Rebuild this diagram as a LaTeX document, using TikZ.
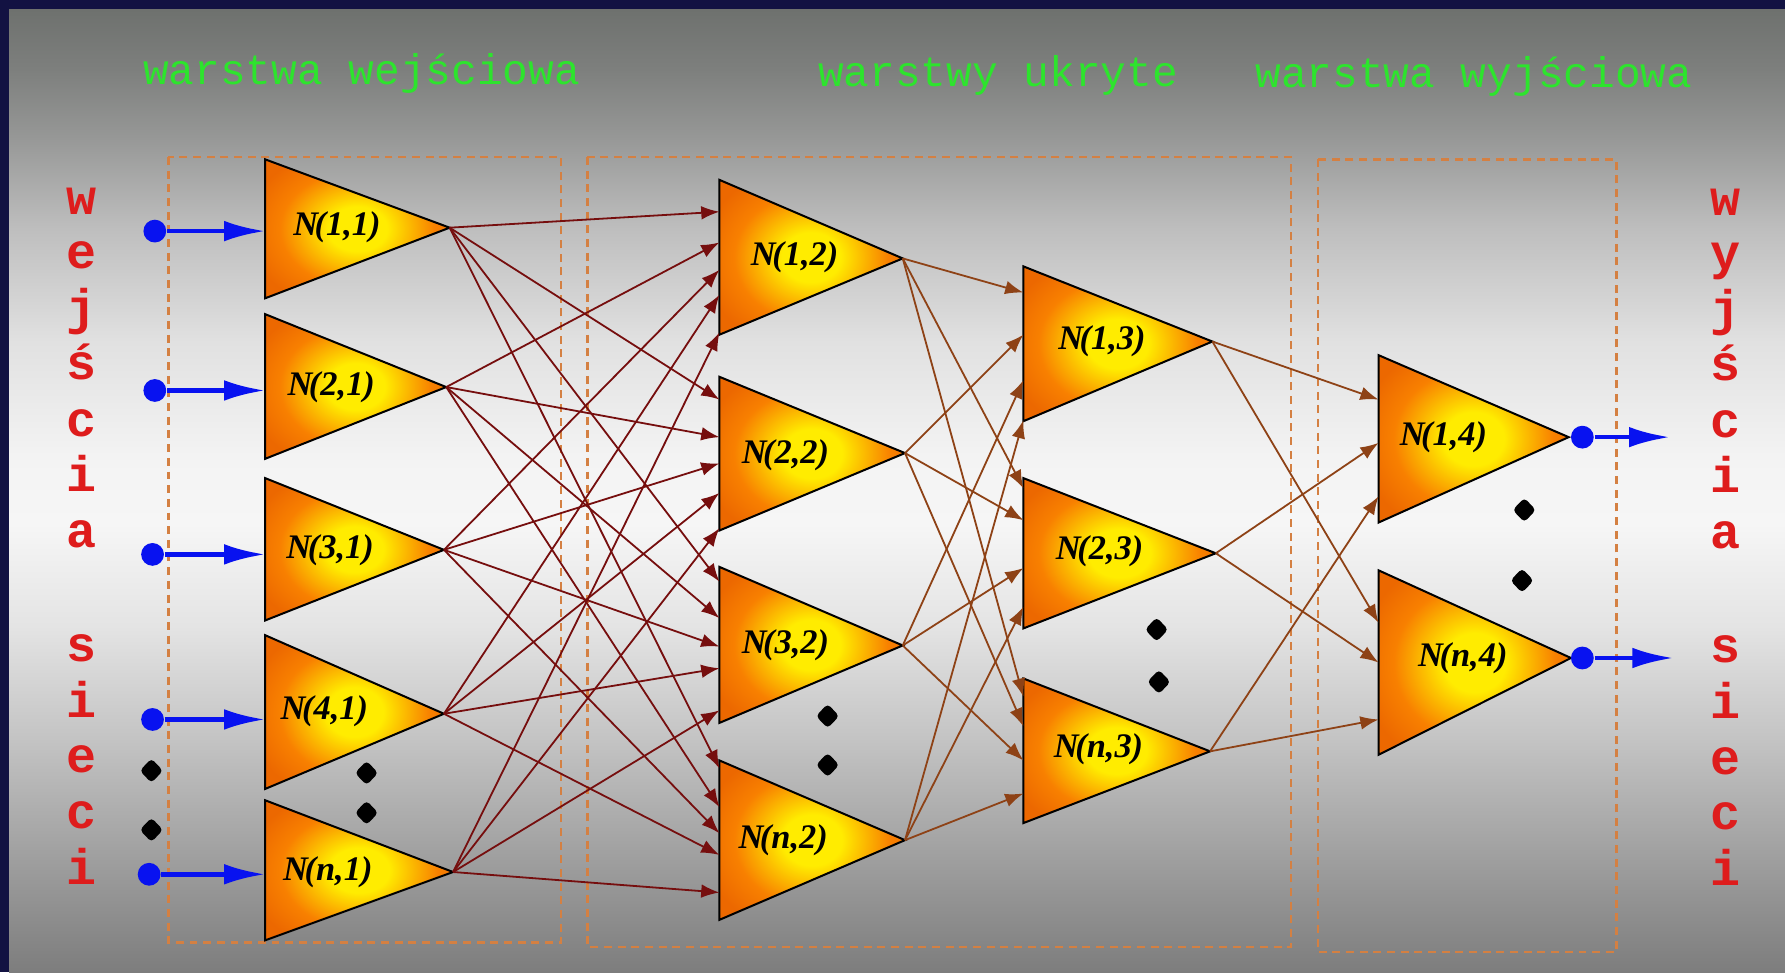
\documentclass[tikz,border=0pt]{standalone}
\usepackage{fontspec}
\setmainfont{Liberation Serif}
\newfontfamily\monof{Liberation Mono}
\newfontfamily\labfam{Liberation Serif}
\usetikzlibrary{arrows.meta,shapes.geometric}

\definecolor{navyb}{RGB}{18,18,66}
\definecolor{ttl}{RGB}{45,228,45}
\definecolor{sred}{RGB}{222,28,28}
\definecolor{boxc}{RGB}{212,128,66}
\definecolor{cA}{RGB}{118,14,14}
\definecolor{cB}{RGB}{142,66,22}
\definecolor{nY}{RGB}{255,236,0}
\definecolor{nO}{RGB}{248,128,0}
\definecolor{nOd}{RGB}{236,104,0}
\definecolor{inblue}{RGB}{8,18,240}
\definecolor{bgA}{RGB}{110,113,110}
\definecolor{bgB}{RGB}{125,127,125}
\definecolor{bgC}{RGB}{150,151,150}
\definecolor{bgD}{RGB}{190,190,190}
\definecolor{bgE}{RGB}{225,225,225}
\definecolor{bgF}{RGB}{243,243,243}
\definecolor{bgG}{RGB}{246,246,246}
\definecolor{bgH}{RGB}{228,228,228}
\definecolor{bgI}{RGB}{195,195,195}
\definecolor{bgJ}{RGB}{160,160,160}
\definecolor{bgK}{RGB}{125,125,125}

\pgfdeclareverticalshading{bgshade}{100bp}{color(0bp)=(bgK); color(25bp)=(bgK); color(31.1bp)=(bgJ); color(37bp)=(bgI); color(43bp)=(bgH); color(48.3bp)=(bgG); color(51.8bp)=(bgF); color(57.7bp)=(bgE); color(63.6bp)=(bgD); color(68.4bp)=(bgC); color(71.9bp)=(bgB); color(75bp)=(bgA); color(100bp)=(bgA)}
\pgfdeclareradialshading{neurshade}{\pgfpoint{0bp}{0bp}}{color(0bp)=(nY); color(8bp)=(nY); color(21bp)=(nO); color(30bp)=(nOd); color(50bp)=(nOd)}

\tikzset{
  neurpath/.style={draw=black, line width=0.5pt, shading=neurshade},
  lab/.style={inner sep=0pt, text=black, font=\labfam\fontsize{8.6pt}{10pt}\selectfont\bfseries\itshape},
  conA/.style={draw=cA, line width=0.45pt, -{Latex[length=1.6mm,width=1.2mm]}},
  conB/.style={draw=cB, line width=0.45pt, -{Latex[length=1.6mm,width=1.2mm]}},
  bdot/.style={circle, fill=inblue, inner sep=0pt, minimum size=0.2cm},
  barr/.style={draw=inblue, line width=1.15pt, -{Latex[length=3.6mm,width=1.8mm]}},
  kdot/.style={diamond, fill=black, inner sep=0pt, minimum width=0.21cm, minimum height=0.22cm, rounded corners=1pt},
  dbox/.style={draw=boxc, line width=0.6pt, dash pattern=on 0.07cm off 0.05cm},
  ttlnode/.style={inner sep=0pt, anchor=base west, text=ttl, font=\monof\fontsize{10.7pt}{12pt}\selectfont},
  sidel/.style={inner sep=0pt, anchor=base, text=sred, font=\monof\bfseries\fontsize{12.5pt}{14pt}\selectfont}
}

\newcommand{\neur}[9]{%
  \path[neurpath] (#2,#3) -- (#5,#6) -- (#2,#4) -- cycle;
  \coordinate (o#1) at (#5,#6);
  \node[lab] (L#1) at (#8,#9) {#7};
}

\begin{document}
\begin{tikzpicture}[x=0.01cm,y=-0.01cm]
\useasboundingbox (0,0) rectangle (1568,854);
\fill[navyb] (0,0) rectangle (1568,854);
\shade[shading=bgshade] (8,8) rectangle (1568,854);

% titles
\node[ttlnode] (t1) at (125,74) {warstwa wejściowa};
\node[ttlnode] (t2) at (718,76) {warstwy ukryte};
\node[ttlnode] (t3) at (1102,77) {warstwa wyjściowa};

% side letters
\foreach \i/\c/\y in {1/w/188,2/e/236,3/j/285,4/ś/333,5/c/383,6/i/432,7/a/481,8/s/581,9/i/630,10/e/679,11/c/728,12/i/777}
  \node[sidel] (wl\i) at (72,\y) {\c};
\foreach \i/\c/\y in {1/w/189,2/y/237,3/j/286,4/ś/334,5/c/384,6/i/433,7/a/482,8/s/582,9/i/631,10/e/680,11/c/729,12/i/778}
  \node[sidel] (wr\i) at (1516,\y) {\c};

% dashed boxes
\draw[dbox] (148,138) rectangle (493,828);
\draw[dbox] (516,138) rectangle (1134,832);
\draw[dbox] (1158,140) rectangle (1420,836);

% neurons
\neur{11}{233}{140}{262}{395}{200}{N\kern-0.1em(1,1)}{296}{200}
\neur{21}{233}{276}{403}{392}{340}{N\kern-0.1em(2,1)}{291}{340}
\neur{31}{233}{420}{545}{390}{483}{N\kern-0.1em(3,1)}{290}{483}
\neur{41}{233}{558}{693}{390}{627}{N\kern-0.1em(4,1)}{285}{625}
\neur{n1}{233}{703}{826}{398}{766}{N\kern-0.1em(n,1)}{288}{766}
\neur{12}{632}{158}{294}{793}{227}{N\kern-0.1em(1,2)}{698}{226}
\neur{22}{632}{331}{466}{795}{398}{N\kern-0.1em(2,2)}{690}{400}
\neur{32}{632}{498}{635}{793}{567}{N\kern-0.1em(3,2)}{690}{567}
\neur{n2}{632}{668}{808}{795}{738}{N\kern-0.1em(n,2)}{688}{738}
\neur{13}{899}{234}{370}{1065}{300}{N\kern-0.1em(1,3)}{968}{300}
\neur{23}{899}{420}{552}{1068}{486}{N\kern-0.1em(2,3)}{966}{484}
\neur{n3}{899}{596}{723}{1063}{660}{N\kern-0.1em(n,3)}{965}{658}
\neur{14}{1211}{312}{459}{1378}{384}{N\kern-0.1em(1,4)}{1268}{384}
\neur{n4}{1211}{501}{663}{1380}{578}{N\kern-0.1em(n,4)}{1285}{578}

% input points on left edges
\foreach \n/\y in {a/186,b/213,c/237,d/259,e/292} \coordinate (e12-\n) at (632,\y);
\foreach \n/\y in {a/351,b/384,c/407,d/433,e/464} \coordinate (e22-\n) at (632,\y);
\foreach \n/\y in {a/511,b/543,c/568,d/587,e/624} \coordinate (e32-\n) at (632,\y);
\foreach \n/\y in {a/675,b/709,c/732,d/751,e/784} \coordinate (en2-\n) at (632,\y);
\foreach \n/\y in {a/257,b/294,c/334,d/369} \coordinate (e13-\n) at (899,\y);
\foreach \n/\y in {a/429,b/457,c/499,d/533} \coordinate (e23-\n) at (899,\y);
\foreach \n/\y in {a/612,b/638,c/668,d/697} \coordinate (en3-\n) at (899,\y);
\foreach \n/\y in {a/351,b/389,c/436} \coordinate (e14-\n) at (1211,\y);
\foreach \n/\y in {a/547,b/582,c/632} \coordinate (en4-\n) at (1211,\y);

% connectors
\foreach \t in {12,22,32,n2}{
  \foreach \s/\k in {11/a,21/b,31/c,41/d,n1/e}{\draw[conA] (o\s) -- (e\t-\k);}
}
\foreach \t in {13,23,n3}{
  \foreach \s/\k in {12/a,22/b,32/c,n2/d}{\draw[conB] (o\s) -- (e\t-\k);}
}
\foreach \t in {14,n4}{
  \foreach \s/\k in {13/a,23/b,n3/c}{\draw[conB] (o\s) -- (e\t-\k);}
}

% network inputs
\foreach \i/\x/\y in {1/136/203,2/136/343,3/134/487,4/134/632,5/131/768}{
  \node[bdot] (in\i) at (\x,\y) {};
  \coordinate (ie\i) at (233,\y);
  \draw[barr] (in\i) -- (ie\i);
}
% network outputs
\node[bdot] (out1) at (1390,384) {};
\coordinate (oe1) at (1467,384);
\draw[barr] (out1) -- (oe1);
\node[bdot] (out2) at (1390,578) {};
\coordinate (oe2) at (1470,578);
\draw[barr] (out2) -- (oe2);

% ellipsis dots
\foreach \i/\x/\y in {1/133/677,2/133/729,3/322/679,4/322/714,5/727/629,6/727/672,7/1016/553,8/1018/599,9/1339/448,10/1337/510}
  \node[kdot] (k\i) at (\x,\y) {};
\end{tikzpicture}
\end{document}
